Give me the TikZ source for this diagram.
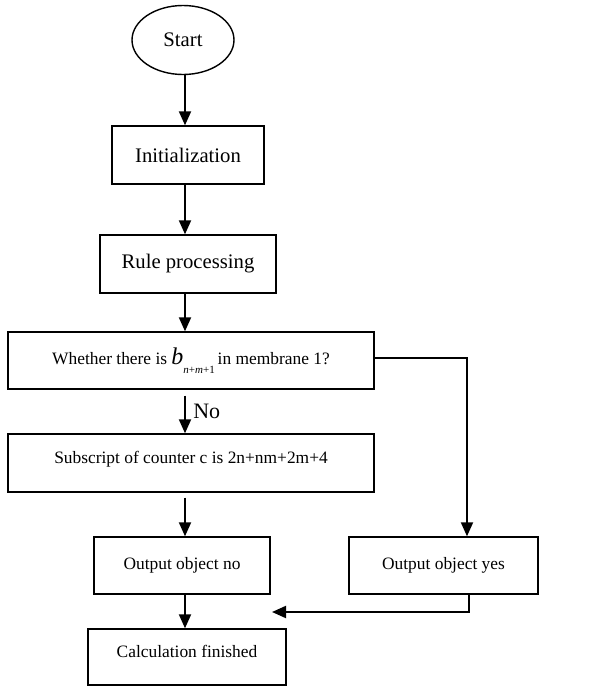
\documentclass[tikz,border=0pt]{standalone}
\usepackage{fontspec}
\setmainfont{Liberation Serif}
\usetikzlibrary{arrows.meta,shapes.geometric}

\begin{document}
\begin{tikzpicture}[x=1pt, y=-1pt,
  every node/.style={font=\fontsize{17.4}{20}\selectfont},
  box/.style={draw, rectangle, line width=1.4pt, inner sep=0pt},
  bigtxt/.style={font=\fontsize{20.7}{24}\selectfont},
  toptxt/.style={text depth=12pt},
  arr/.style={-{Triangle[length=14pt,width=12pt]}, line width=2pt}]
  \useasboundingbox (0,0) rectangle (597,686);
  \coordinate (spine) at (185,0);
  % main column
  \node[draw, ellipse, line width=1.4pt, bigtxt, minimum width=102pt, minimum height=69pt, inner sep=0pt] (start) at (183,40) {Start};
  \node[box, bigtxt, minimum width=152pt, minimum height=58pt] (init) at (188,155) {Initialization};
  \node[box, bigtxt, minimum width=176pt, minimum height=58pt] (rule) at (188,264) {Rule processing};
  \node[box, minimum width=366pt, minimum height=57pt] (whether) at (191,360.5)
    {Whether there is \textit{\fontsize{24}{24}\selectfont b}\raisebox{-9pt}{\fontsize{11}{12}\selectfont\textit{n}+\textit{m}+1}\,in membrane 1?};
  \node[box, toptxt, minimum width=366pt, minimum height=58pt] (subscr) at (191,463) {Subscript of counter c is 2n+nm+2m+4};
  \node[box, minimum width=176pt, minimum height=57pt] (outno) at (182,565.5) {Output object no};
  \node[box, minimum width=189pt, minimum height=57pt] (outyes) at (443.5,565.5) {Output object yes};
  \node[box, toptxt, minimum width=198pt, minimum height=56pt] (calc) at (187,657) {Calculation finished};
  \coordinate (join) at (272,612);
  % connectors
  \draw[arr] (start.south -| spine) -- (init.north -| spine);
  \draw[arr] (init.south -| spine) -- (rule.north -| spine);
  \draw[arr] (rule.south -| spine) -- (whether.north -| spine);
  \draw[arr, shorten <=6pt] (whether.south -| spine) -- node[right=4pt, font=\fontsize{22}{24}\selectfont] {No} (subscr.north -| spine);
  \draw[arr, shorten <=5pt] (subscr.south -| spine) -- (outno.north -| spine);
  \draw[arr] ([yshift=2.5pt]whether.east) -| ([xshift=23.5pt]outyes.north);
  \draw[arr] ([xshift=25pt]outyes.south) |- (join);
  \draw[arr] (outno.south -| spine) -- (calc.north -| spine);
\end{tikzpicture}
\end{document}
